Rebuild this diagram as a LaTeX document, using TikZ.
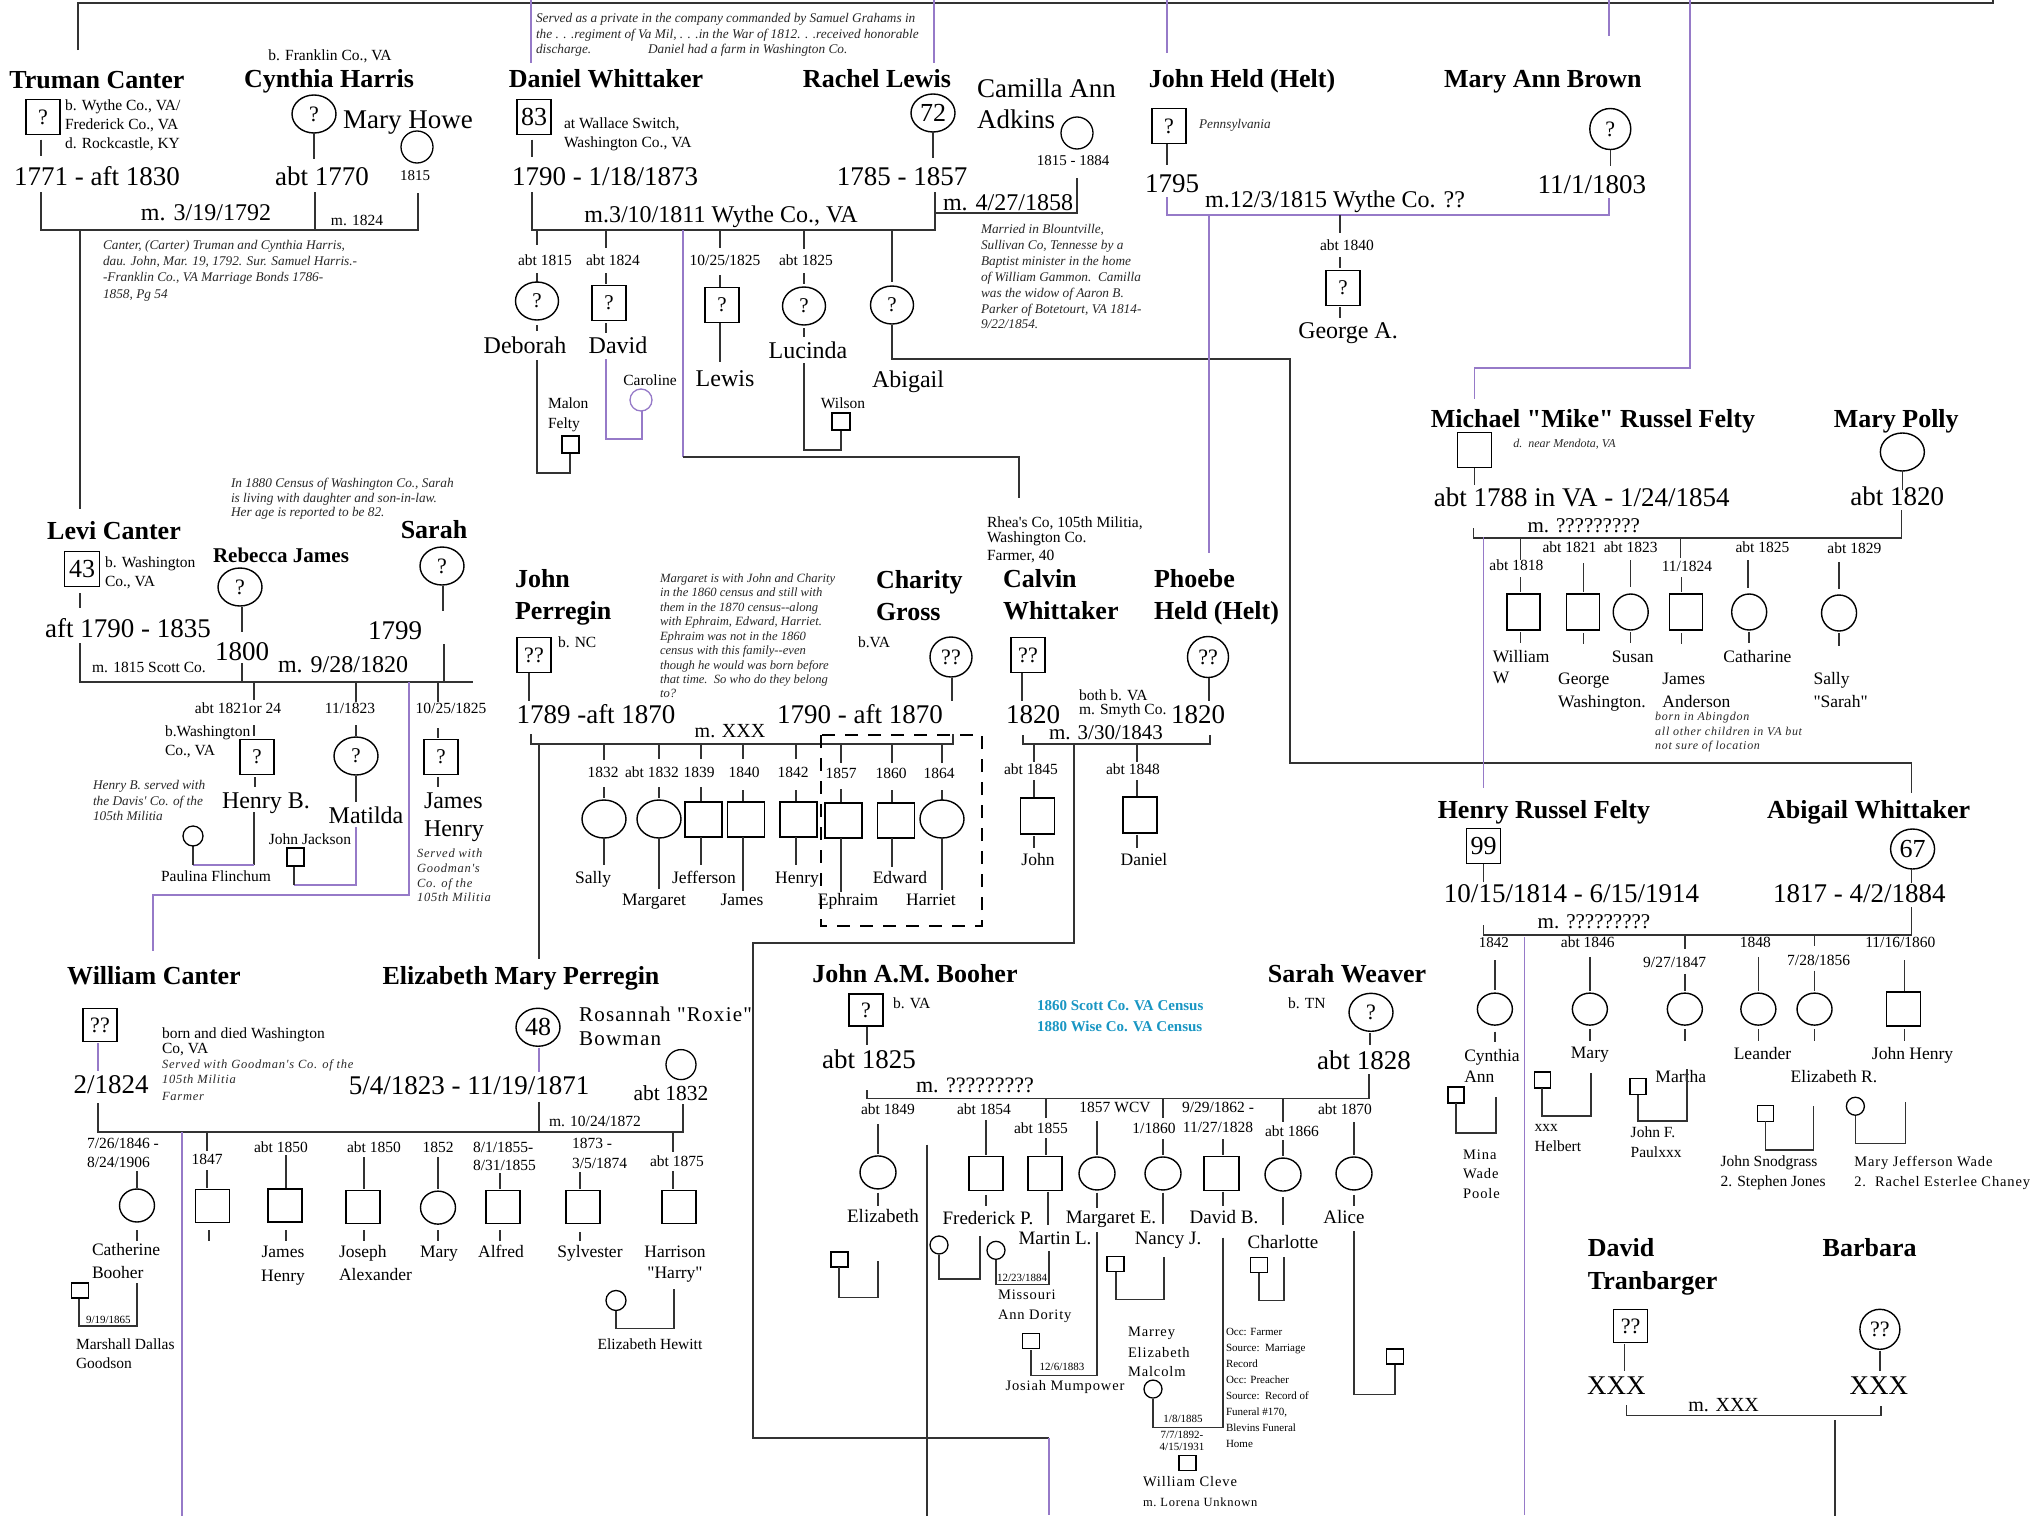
\documentclass[tikz,border=0pt]{standalone}
\usepackage{fontspec}
\setmainfont{Liberation Serif}[Ligatures=TeXOff]
\newfontfamily\trk{Liberation Serif}[LetterSpace=6,Ligatures=TeXOff]
\usetikzlibrary{shapes.geometric}
\definecolor{lc}{RGB}{50,50,50}
\definecolor{pur}{RGB}{150,122,200}
\definecolor{cen}{RGB}{25,150,195}
\definecolor{nt}{RGB}{40,40,40}
\newcommand\TX[4][]{\node[#1] (#2) at (#3) {#4};}
\begin{document}
\begin{tikzpicture}[x=1pt,y=-1pt,
 every node/.style={inner sep=0pt, outer sep=0pt},
 ln/.style={draw=lc, line width=1.4pt},
 pl/.style={draw=pur, line width=1.6pt},
 sq/.style={rectangle, draw=black, line width=1.4pt, minimum width=34pt, minimum height=35pt, font=\fontsize{22}{22}\selectfont},
 ci/.style={ellipse, draw=black, line width=1.4pt, minimum width=43pt, minimum height=38pt, font=\fontsize{22}{22}\selectfont},
 ssq/.style={rectangle, draw=black, line width=1.3pt, minimum width=16pt, minimum height=16pt},
 sci/.style={circle, draw=black, line width=1.3pt, minimum size=19pt},
 nm/.style={anchor=base, font=\fontsize{26}{30}\selectfont\bfseries},
 dt/.style={anchor=base, font=\fontsize{27}{30}\selectfont},
 mr/.style={anchor=base, font=\fontsize{24}{28}\selectfont},
 sm/.style={anchor=base, font=\fontsize{15.5}{18}\selectfont},
 yr/.style={anchor=base, font=\fontsize{15.5}{18}\selectfont},
 it/.style={anchor=base west, font=\fontsize{13.3}{16}\selectfont\itshape, text=nt},
 cn/.style={anchor=base, font=\fontsize{24}{28}\selectfont},
 cs/.style={anchor=base, font=\fontsize{17.5}{20}\selectfont},
 cb/.style={anchor=base, font=\fontsize{19}{22}\selectfont},
 tn/.style={anchor=base, font=\fontsize{11}{13}\selectfont},
 tk/.style={anchor=base west, font=\fontsize{14.5}{17}\trk},
 rgt/.style={xshift=-31.8pt, xscale=1.0212},
 low/.style={yshift=64.61pt, yscale=1.0673},
]
\fill[white] (0,0) rectangle (2031,1515);
\useasboundingbox (0,0) rectangle (2031,1515);

% ---------- frame and top connectors
\draw[ln] (78,50) -- (78,3) -- (1993,3) -- (1993,0);
\draw[pl] (531,0) -- (531,63);
\draw[pl] (934,0) -- (934,63);
\draw[pl] (1167,0) -- (1167,53);

% ---------- Truman Canter
\TX[nm]{tcN}{97,88}{Truman Canter}
\node[sq] (tcB) at (43,117) {?};
\TX[sm,anchor=base west]{tcI1}{65,110}{b. Wythe Co., VA/}
\TX[sm,anchor=base west]{tcI2}{65,129}{Frederick Co., VA}
\TX[sm,anchor=base west]{tcI3}{65,148}{d. Rockcastle, KY}
\draw[ln] (tcB.south) ++(-2,5) -- ++(0,16);
\TX[dt]{tcD}{97,185}{1771 - aft 1830}
\draw[ln] (41,192) -- (41,230) -- (418,230) -- (418,193);
\draw[ln] (315,192) -- (315,230);
\TX[mr]{tcM}{206,220}{m. 3/19/1792}
\TX[sm]{tcM2}{357,225}{m. 1824}
\TX[it]{tcT1}{103,249}{Canter, (Carter) Truman and Cynthia Harris,}
\TX[it]{tcT2}{103,265}{dau. John, Mar. 19, 1792. Sur. Samuel Harris.-}
\TX[it]{tcT3}{103,281}{-Franklin Co., VA Marriage Bonds 1786-}
\TX[it]{tcT4}{103,298}{1858, Pg 54}
\draw[ln] (80,230) -- (80,509);

% ---------- Cynthia Harris
\TX[sm]{chB}{330,60}{b. Franklin Co., VA}
\TX[nm]{chN}{329,87}{Cynthia Harris}
\node[ci,minimum width=44pt] (chC) at (314,114) {?};
\draw[ln] (chC.south) -- ++(0,26);
\TX[dt]{chD}{322,185}{abt 1770}

% ---------- Mary Howe
\TX[dt]{mhN}{408,128}{Mary Howe}
\node[sci,minimum size=32pt] (mhC) at (417,147) {};
\TX[sm,font=\fontsize{15}{18}\selectfont]{mhD}{415,180}{1815}

% ---------- Daniel Whittaker
\TX[it]{dwT1}{536,22}{Served as a private in the company commanded by Samuel Grahams in}
\TX[it]{dwT2}{536,38}{the . . .regiment of Va Mil, . . .in the War of 1812. . .received honorable}
\TX[it]{dwT3}{536,53}{discharge.}
\TX[it]{dwT4}{648,53}{Daniel had a farm in Washington Co.}
\TX[nm]{dwN}{606,87}{Daniel Whittaker}
\node[sq,font=\fontsize{26}{26}\selectfont] (dwB) at (534,117) {83};
\TX[sm,anchor=base west]{dwI1}{564,128}{at Wallace Switch,}
\TX[sm,anchor=base west]{dwI2}{564,147}{Washington Co., VA}
\draw[ln] (dwB.south) ++(-2,5) -- ++(0,17);
\TX[dt]{dwD}{605,185}{1790 - 1/18/1873}
\draw[ln] (532,192) -- (532,230) -- (935,230) -- (935,192);
\TX[mr]{dwM}{721,222}{m.3/10/1811 Wythe Co., VA}

% ---------- Rachel Lewis
\TX[nm]{rlN}{877,87}{Rachel Lewis}
\node[ci,font=\fontsize{26}{26}\selectfont,minimum width=44pt] (rlC) at (933,113) {72};
\draw[ln] (rlC.south) -- ++(0,26);
\TX[dt]{rlD}{902,185}{1785 - 1857}
\draw[ln] (935,213) -- (1077,213) -- (1077,178);
\TX[mr]{caM}{1008,210}{m. 4/27/1858}

% ---------- Camilla Ann Adkins
\TX[dt,anchor=base west]{caN1}{977,97}{Camilla Ann}
\TX[dt,anchor=base west]{caN2}{977,128}{Adkins}
\node[sci,minimum size=32pt] (caC) at (1077,133) {};
\TX[sm,font=\fontsize{15}{18}\selectfont]{caD}{1073,165}{1815 - 1884}
\TX[it]{caT1}{981,233}{Married in Blountville,}
\TX[it]{caT2}{981,249}{Sullivan Co, Tennesse by a}
\TX[it]{caT3}{981,265}{Baptist minister in the home}
\TX[it]{caT4}{981,281}{of William Gammon.\ \ Camilla}
\TX[it]{caT5}{981,297}{was the widow of Aaron B.}
\TX[it]{caT6}{981,313}{Parker of Botetourt, VA 1814-}
\TX[it]{caT7}{981,328}{9/22/1854.}

% ---------- Daniel's children
\draw[ln] (537,230) -- (537,245);
\TX[yr]{d1Y}{545,265}{abt 1815}
\draw[ln] (537,273) -- (537,282);
\node[ci,font=\fontsize{21}{21}\selectfont] (d1C) at (537,301) {?};
\draw[ln] (537,325) -- (537,331);
\TX[cn]{d1N}{525,353}{Deborah}
\draw[ln] (537,360) -- (537,473) -- (570,473) -- (570,453);
\node[ssq,minimum width=17pt,minimum height=17pt] (d1S) at (570.5,444.5) {};
\TX[sm,anchor=base west]{d1S1}{548,408}{Malon}
\TX[sm,anchor=base west]{d1S2}{548,428}{Felty}

\draw[ln] (606,230) -- (606,248);
\TX[yr]{d2Y}{613,265}{abt 1824}
\draw[ln] (606,273) -- (606,284);
\node[sq,font=\fontsize{21}{21}\selectfont] (d2B) at (609,303) {?};
\draw[ln] (606,323) -- (606,333);
\TX[cn]{d2N}{618,353}{David}
\draw[pl] (606,359) -- (606,439) -- (642,439) -- (642,411);
\node[sci,draw=pur,minimum size=22pt] (d2S) at (641,400) {};
\TX[sm]{d2SN}{650,385}{Caroline}

\draw[pl] (683,230) -- (683,457);
\draw[ln] (683,457) -- (1019,457) -- (1019,498);

\draw[ln] (720,230) -- (720,248);
\TX[yr]{d3Y}{725,265}{10/25/1825}
\draw[ln] (720,275) -- (720,287);
\node[sq,font=\fontsize{21}{21}\selectfont] (d3B) at (722,305) {?};
\draw[ln] (720,323) -- (720,362);
\TX[cn]{d3N}{725,386}{Lewis}

\draw[ln] (804,230) -- (804,249);
\TX[yr]{d4Y}{806,265}{abt 1825}
\draw[ln] (804,273) -- (804,284);
\node[ci,font=\fontsize{21}{21}\selectfont] (d4C) at (804,306) {?};
\draw[ln] (804,328) -- (804,337);
\TX[cn]{d4N}{808,358}{Lucinda}
\draw[ln] (804,363) -- (804,450) -- (841,450) -- (841,430);
\node[ssq,minimum width=18pt,minimum height=17pt] (d4S) at (841,421.5) {};
\TX[sm]{d4SN}{843,408}{Wilson}

\draw[ln] (892,230) -- (892,282);
\node[ci,font=\fontsize{21}{21}\selectfont] (d5C) at (892,305) {?};
\draw[ln] (892,325) -- (892,359) -- (1290,359) -- (1290,763) -- (1911.5,763) -- (1911.5,793);
\TX[cn]{d5N}{908,387}{Abigail}

% ---------- John Held
\TX[nm]{jhN}{1242,87}{John Held (Helt)}
\node[sq] (jhB) at (1169,126) {?};
\TX[it]{jhI}{1199,128}{Pennsylvania}
\draw[ln] (1167,144) -- (1167,165);
\TX[dt]{jhD}{1172,192}{1795}
\draw[pl] (1167,197) -- (1167,215) -- (1609,215) -- (1609,198);
\TX[mr]{jhM}{1335,207}{m.12/3/1815 Wythe Co. ??}
\draw[pl] (1209,215) -- (1209,553);
\draw[ln] (1340,215) -- (1340,233);
\TX[yr]{g1Y}{1347,250}{abt 1840}
\draw[ln] (1340,257) -- (1340,268);
\node[sq,font=\fontsize{21}{21}\selectfont] (g1B) at (1343,288) {?};
\draw[ln] (1340,307) -- (1340,318);
\TX[cn]{g1N}{1348,338}{George A.}

% ================= right side (x-corrected)
\begin{scope}[rgt]
\draw[pl] (1607,0) -- (1607,36);
\draw[pl] (1686,0) -- (1686,368) -- (1475,368) -- (1475,399);
% ---------- Mary Ann Brown
\TX[nm]{mbN}{1542,87}{Mary Ann Brown}
\node[ci,minimum width=41pt,minimum height=41pt] (mbC) at (1608,129) {?};
\draw[ln] (1608,150) -- (1608,166);
\TX[dt]{mbD}{1590,193}{11/1/1803}

% ---------- Michael Felty / Mary Polly
\TX[nm]{mfN}{1591,427}{Michael "Mike" Russel Felty}
\TX[it,font=\fontsize{12}{14}\selectfont\itshape]{mfI}{1513,447}{d.\ \ near Mendota, VA}
\node[sq] (mfB) at (1475,450) {};
\draw[ln] (1475,468) -- (1475,485);
\TX[dt]{mfD}{1580,506}{abt 1788 in VA - 1/24/1854}
\TX[nm]{mpN}{1888,427}{Mary Polly}
\node[ci,minimum width=44pt,minimum height=38pt] (mpC) at (1894,452) {};
\draw[ln] (1894,471) -- (1894,490);
\TX[dt]{mpD}{1889,505}{abt 1820}
\draw[ln] (1474,528) -- (1474,538) -- (1893,538) -- (1893,510);
\TX[mr,font=\fontsize{21}{24}\selectfont]{mfM}{1582,532}{m. ?????????}
\draw[pl] (1484,537) -- (1484,788);

% Felty children
\draw[ln] (1520,538) -- (1520,560);
\TX[yr]{f1Y}{1516,570}{abt 1818}
\draw[ln] (1520,577) -- (1520,592);
\node[sq,minimum width=33pt,minimum height=36pt] (f1B) at (1523,612) {};
\draw[ln] (1520,632) -- (1520,643);
\TX[cs,anchor=base west]{f1N1}{1493,662}{William}
\TX[cs,anchor=base west]{f1N2}{1493,683}{W}

\TX[yr]{f2Y}{1568,552}{abt 1821}
\draw[ln] (1582,563) -- (1582,592);
\node[sq,minimum width=33pt,minimum height=36pt] (f2B) at (1581,612) {};
\draw[ln] (1582,633) -- (1582,644);
\TX[cs,anchor=base west]{f2N1}{1557,684}{George}
\TX[cs,anchor=base west]{f2N2}{1557,707}{Washington.}

\TX[yr]{f3Y}{1628,552}{abt 1823}
\draw[ln] (1628,560) -- (1628,587);
\node[ci,minimum width=35pt,minimum height=36pt] (f3C) at (1628,612) {};
\draw[ln] (1628,632) -- (1628,643);
\TX[cs]{f3N}{1630,662}{Susan}

\draw[ln] (1677,538) -- (1677,558);
\TX[yr]{f4Y}{1683,571}{11/1824}
\draw[ln] (1678,577) -- (1678,592);
\node[sq,minimum width=33pt,minimum height=36pt] (f4B) at (1682,612) {};
\draw[ln] (1678,633) -- (1678,644);
\TX[cs,anchor=base west]{f4N1}{1659,684}{James}
\TX[cs,anchor=base west]{f4N2}{1659,707}{Anderson}
\TX[it,font=\fontsize{12}{14}\trk\itshape]{f4T1}{1652,720}{born in Abingdon}
\TX[it,font=\fontsize{12}{14}\trk\itshape]{f4T2}{1652,735}{all other children in VA but}
\TX[it,font=\fontsize{12}{14}\trk\itshape]{f4T3}{1652,749}{not sure of location}

\TX[yr]{f5Y}{1757,552}{abt 1825}
\draw[ln] (1743,560) -- (1743,588);
\node[ci,minimum width=35pt,minimum height=36pt] (f5C) at (1744,612) {};
\draw[ln] (1744,632) -- (1744,643);
\TX[cs]{f5N}{1752,662}{Catharine}

\TX[yr]{f6Y}{1847,553}{abt 1829}
\draw[ln] (1832,562) -- (1832,589);
\node[ci,minimum width=35pt,minimum height=36pt] (f6C) at (1832,613) {};
\draw[ln] (1832,633) -- (1832,646);
\TX[cs,anchor=base west]{f6N1}{1807,684}{Sally}
\TX[cs,anchor=base west]{f6N2}{1807,707}{"Sarah"}

% ---------- Henry Russel Felty / Abigail Whittaker
\TX[nm]{hfN}{1543,818}{Henry Russel Felty}
\node[sq,font=\fontsize{26}{26}\selectfont] (hfB) at (1484,846) {99};
\draw[ln] (1484,864) -- (1484,882);
\TX[dt]{hfD}{1570,902}{10/15/1814 - 6/15/1914}
\draw[ln] (1484,925) -- (1484,935) -- (1903,935) -- (1903,907);
\TX[mr,font=\fontsize{21}{24}\selectfont]{hfM}{1592,928}{m. ?????????}
\TX[nm]{awN}{1861,818}{Abigail Whittaker}
\node[ci,font=\fontsize{26}{26}\selectfont,minimum width=44pt,minimum height=40pt] (awC) at (1904,849) {67};
\draw[ln] (1903,869) -- (1903,883);
\TX[dt]{awD}{1852,902}{1817 - 4/2/1884}
\draw[pl] (1524,937) -- (1524,1515);

\begin{scope}[low]
% Henry's children
\TX[yr,font=\fontsize{15}{18}\selectfont]{h1Y}{1494,948}{1842}
\draw[ln] (1495,960) -- (1495,988);
\node[ci,minimum width=35pt,minimum height=32pt] (h1C) at (1495,1006) {};
\draw[ln] (1495,1027) -- (1495,1037);
\TX[cs,anchor=base west]{h1N1}{1465,1055}{Cynthia}
\TX[cs,anchor=base west]{h1N2}{1465,1075}{Ann}
\node[ssq] (h1S) at (1457,1086.5) {};
\draw[ln] (1457,1094) -- (1457,1122) -- (1496,1122) -- (1496,1088);
\TX[tk]{h1S1}{1464,1147}{Mina}
\TX[tk]{h1S2}{1464,1165}{Wade}
\TX[tk]{h1S3}{1464,1183}{Poole}

\TX[yr]{h2Y}{1586,948}{abt 1846}
\draw[ln] (1588,957) -- (1588,989);
\node[ci,minimum width=35pt,minimum height=32pt] (h2C) at (1588,1006) {};
\draw[ln] (1588,1025) -- (1588,1036);
\TX[cs]{h2N}{1588,1052}{Mary}
\node[ssq] (h2S) at (1541.5,1072.5) {};
\draw[ln] (1541,1080) -- (1541,1106) -- (1589,1106) -- (1589,1066);
\TX[sm,anchor=base west]{h2S1}{1534,1121}{xxx}
\TX[sm,anchor=base west]{h2S2}{1534,1139}{Helbert}

\draw[ln] (1681,936) -- (1681,950);
\TX[yr]{h3Y}{1671,967}{9/27/1847}
\draw[ln] (1681,973) -- (1681,989);
\node[ci,minimum width=35pt,minimum height=32pt] (h3C) at (1681,1006) {};
\draw[ln] (1681,1025) -- (1681,1036);
\TX[cs]{h3N}{1677,1075}{Martha}
\node[ssq] (h3S) at (1635,1078.5) {};
\draw[ln] (1635,1086) -- (1635,1111) -- (1683,1111) -- (1683,1062);
\TX[sm,anchor=base west]{h3S1}{1628,1126}{John F.}
\TX[sm,anchor=base west]{h3S2}{1628,1145}{Paulxxx}

\TX[yr]{h4Y}{1750,948}{1848}
\draw[ln] (1753,957) -- (1753,989);
\node[ci,minimum width=35pt,minimum height=32pt] (h4C) at (1753,1006) {};
\draw[ln] (1753,1025) -- (1753,1036);
\TX[cs]{h4N}{1757,1053}{Leander}

\draw[ln] (1808,936) -- (1808,947);
\TX[yr]{h5Y}{1812,965}{7/28/1856}
\draw[ln] (1808,970) -- (1808,989);
\node[ci,minimum width=35pt,minimum height=32pt] (h5C) at (1808,1006) {};
\draw[ln] (1808,1025) -- (1808,1036);
\TX[cs]{h5N}{1827,1075}{Elizabeth R.}
\node[ssq] (h5S) at (1760,1103.5) {};
\draw[ln] (1760,1111) -- (1760,1138) -- (1807,1138) -- (1807,1097);
\TX[sm,anchor=base west]{h5S1}{1716,1153}{John Snodgrass}
\TX[sm,anchor=base west]{h5S2}{1716,1172}{2. Stephen Jones}

\TX[yr]{h6Y}{1892,948}{11/16/1860}
\draw[ln] (1896,960) -- (1896,989);
\node[sq,minimum width=34pt,minimum height=34pt] (h6B) at (1895,1006) {};
\draw[ln] (1896,1025) -- (1896,1036);
\TX[cs]{h6N}{1904,1053}{John Henry}
\node[sci,minimum size=18pt] (h6S) at (1848,1097) {};
\draw[ln] (1848,1106) -- (1848,1132) -- (1897,1132) -- (1897,1093);
\TX[tk]{h6S1}{1847,1153}{Mary\ Jefferson\ Wade}
\TX[tk]{h6S2}{1847,1172}{2.\ \ Rachel\ Esterlee\ Chaney}

% ---------- David Tranbarger / Barbara
\TX[nm,anchor=base west]{dtN1}{1586,1238}{David}
\TX[nm,anchor=base west]{dtN2}{1586,1269}{Tranbarger}
\node[sq,minimum height=33pt] (dtB) at (1628,1303) {??};
\draw[ln] (1622,1320) -- (1622,1345);
\TX[dt]{dtD}{1614,1367}{XXX}
\TX[nm]{bbN}{1862,1238}{Barbara}
\node[ci,minimum width=40pt,minimum height=40pt] (bbC) at (1872,1306) {??};
\draw[ln] (1872,1326) -- (1872,1345);
\TX[dt]{bbD}{1871,1367}{XXX}
\draw[ln] (1624,1377) -- (1624,1387) -- (1873,1387) -- (1873,1378);
\TX[mr,font=\fontsize{20}{24}\selectfont]{dtM}{1719,1383}{m. XXX}
\draw[ln] (1828,1391) -- (1828,1515);
\end{scope}
\end{scope}

% ---------- Levi Canter
\TX[it]{lcT1}{231,487}{In 1880 Census of Washington Co., Sarah}
\TX[it]{lcT2}{231,502}{is living with daughter and son-in-law.}
\TX[it]{lcT3}{231,516}{Her age is reported to be 82.}
\TX[nm]{lcN}{114,539}{Levi Canter}
\node[sq,font=\fontsize{26}{26}\selectfont,minimum width=35pt] (lcB) at (82,569) {43};
\TX[sm,anchor=base west]{lcI1}{105,567}{b. Washington}
\TX[sm,anchor=base west]{lcI2}{105,586}{Co., VA}
\draw[ln] (80,593) -- (80,608);
\TX[dt]{lcD}{128,637}{aft 1790 - 1835}
\draw[ln] (80,643) -- (80,682) -- (473,682);
\draw[ln] (242,663) -- (242,682);
\draw[ln] (444,644) -- (444,682);
\TX[sm]{lcM}{149,672}{m. 1815 Scott Co.}
\TX[nm,font=\fontsize{21}{24}\selectfont\bfseries]{rjN}{281,562}{Rebecca James}
\node[ci,minimum width=44pt] (rjC) at (240,587) {?};
\draw[ln] (242,607) -- (242,632);
\TX[dt]{rjD}{242,660}{1800}
\TX[mr]{lcM2}{343,672}{m. 9/28/1820}
\TX[nm]{saN}{434,538}{Sarah}
\node[ci,minimum width=44pt] (saC) at (442,566) {?};
\draw[ln] (443,586) -- (443,611);
\TX[dt]{saD}{395,639}{1799}

% Levi's children
\draw[ln] (254,682) -- (254,700);
\TX[yr]{l1Y}{238,713}{abt 1821or 24}
\draw[ln] (254,725) -- (254,736);
\TX[sm,anchor=base west]{l1I1}{165,736}{b.Washington}
\TX[sm,anchor=base west]{l1I2}{165,755}{Co., VA}
\node[sq,font=\fontsize{21}{21}\selectfont] (l1B) at (257,757) {?};
\draw[ln] (255,777) -- (255,787);
\TX[cn]{l1N}{266,808}{Henry B.}
\draw[ln] (254,812) -- (254,865);
\draw[pl] (254,865) -- (193,865);
\draw[ln] (193,865) -- (193,846);
\node[sci,minimum size=20pt] (l1S) at (193,836) {};
\TX[sm]{l1SN}{216,881}{Paulina Flinchum}
\TX[it]{l1T1}{93,789}{Henry B. served with}
\TX[it]{l1T2}{93,805}{the Davis' Co. of the}
\TX[it]{l1T3}{93,820}{105th Militia}

\draw[ln] (356,682) -- (356,702);
\TX[yr]{l2Y}{350,713}{11/1823}
\draw[ln] (356,725) -- (356,736);
\node[ci,font=\fontsize{21}{21}\selectfont,minimum width=44pt] (l2C) at (356,756) {?};
\draw[ln] (356,776) -- (356,802);
\TX[cn]{l2N}{366,823}{Matilda}
\draw[pl] (356,827) -- (356,885) -- (294,885);
\draw[ln] (294,885) -- (294,866);
\node[ssq,minimum width=17pt,minimum height=18pt] (l2S) at (295.5,857) {};
\TX[sm]{l2SN}{310,844}{John Jackson}

\draw[pl] (409,682) -- (409,895) -- (153,895) -- (153,951);

\draw[ln] (438,682) -- (438,702);
\TX[yr]{l3Y}{451,713}{10/25/1825}
\draw[ln] (438,728) -- (438,738);
\node[sq,font=\fontsize{21}{21}\selectfont] (l3B) at (441,757) {?};
\draw[ln] (438,777) -- (438,787);
\TX[cn,anchor=base west]{l3N1}{424,808}{James}
\TX[cn,anchor=base west]{l3N2}{424,836}{Henry}
\TX[it,font=\fontsize{12.5}{15}\trk\itshape]{l3T1}{417,857}{Served with}
\TX[it,font=\fontsize{12.5}{15}\trk\itshape]{l3T2}{417,872}{Goodman's}
\TX[it,font=\fontsize{12.5}{15}\trk\itshape]{l3T3}{417,887}{Co. of the}
\TX[it,font=\fontsize{12.5}{15}\trk\itshape]{l3T4}{417,901}{105th Militia}

% ---------- John Perregin / Charity Gross
\TX[nm,anchor=base west]{jpN1}{515,587}{John}
\TX[nm,anchor=base west]{jpN2}{515,619}{Perregin}
\node[sq] (jpB) at (534,655) {??};
\TX[sm,anchor=base west]{jpI}{558,647}{b. NC}
\draw[ln] (529,673) -- (529,701);
\TX[dt]{jpD}{596,723}{1789 -aft 1870}
\draw[ln] (531,734) -- (531,744) -- (953,744) -- (953,734);
\TX[mr,font=\fontsize{20}{24}\selectfont]{jpM}{730,737}{m. XXX}
\draw[ln] (539,744) -- (539,959);
\TX[it,font=\fontsize{12.6}{15}\selectfont\itshape]{pgT1}{660,582}{Margaret is with John and Charity}
\TX[it,font=\fontsize{12.6}{15}\selectfont\itshape]{pgT2}{660,596}{in the 1860 census and still with}
\TX[it,font=\fontsize{12.6}{15}\selectfont\itshape]{pgT3}{660,611}{them in the 1870 census-{}-along}
\TX[it,font=\fontsize{12.6}{15}\selectfont\itshape]{pgT4}{660,625}{with Ephraim, Edward, Harriet.}
\TX[it,font=\fontsize{12.6}{15}\selectfont\itshape]{pgT5}{660,640}{Ephraim was not in the 1860}
\TX[it,font=\fontsize{12.6}{15}\selectfont\itshape]{pgT6}{660,654}{census with this family-{}-even}
\TX[it,font=\fontsize{12.6}{15}\selectfont\itshape]{pgT7}{660,669}{though he would was born before}
\TX[it,font=\fontsize{12.6}{15}\selectfont\itshape]{pgT8}{660,683}{that time.\ \ So who do they belong}
\TX[it,font=\fontsize{12.6}{15}\selectfont\itshape]{pgT9}{660,697}{to?}
\TX[nm,anchor=base west]{cgN1}{876,588}{Charity}
\TX[nm,anchor=base west]{cgN2}{876,620}{Gross}
\TX[sm,anchor=base west]{cgI}{858,647}{b.VA}
\node[ci,minimum width=42pt,minimum height=40pt] (cgC) at (951,657) {??};
\draw[ln] (952,678) -- (952,701);
\TX[dt]{cgD}{860,723}{1790 - aft 1870}
\draw[line width=1.4pt, dash pattern=on 13pt off 10pt] (821,735) rectangle (982,926);

% Perregin children
\draw[ln] (604,744) -- (604,760);
\TX[yr]{p1Y}{603,777}{1832}
\draw[ln] (604,787) -- (604,798);
\node[ci,minimum width=44pt,minimum height=38pt] (p1C) at (604,819) {};
\draw[ln] (604,838) -- (604,865);
\TX[cs]{p1N}{593,883}{Sally}

\draw[ln] (659,744) -- (659,759);
\TX[yr]{p2Y}{652,777}{abt 1832}
\draw[ln] (659,787) -- (659,798);
\node[ci,minimum width=44pt,minimum height=38pt] (p2C) at (659,819) {};
\draw[ln] (659,838) -- (659,889);
\TX[cs]{p2N}{654,905}{Margaret}

\draw[ln] (701,744) -- (701,759);
\TX[yr]{p3Y}{699,777}{1839}
\draw[ln] (701,787) -- (701,801);
\node[sq,minimum width=37pt,minimum height=35pt] (p3B) at (703.5,819.5) {};
\draw[ln] (701,837) -- (701,865);
\TX[cs]{p3N}{704,883}{Jefferson}

\draw[ln] (743,744) -- (743,759);
\TX[yr]{p4Y}{744,777}{1840}
\draw[ln] (743,790) -- (743,801);
\node[sq,minimum width=37pt,minimum height=35pt] (p4B) at (746,819.5) {};
\draw[ln] (743,837) -- (743,891);
\TX[cs]{p4N}{742,905}{James}

\draw[ln] (796,744) -- (796,759);
\TX[yr]{p5Y}{793,777}{1842}
\draw[ln] (796,790) -- (796,801);
\node[sq,minimum width=37pt,minimum height=35pt] (p5B) at (798.5,819.5) {};
\draw[ln] (796,837) -- (796,865);
\TX[cs]{p5N}{797,883}{Henry}

\draw[ln] (841,744) -- (841,763);
\TX[yr]{p6Y}{841,778}{1857}
\draw[ln] (841,789) -- (841,802);
\node[sq,minimum width=37pt,minimum height=35pt] (p6B) at (843.5,820.5) {};
\draw[ln] (841,838) -- (841,892);
\TX[cs]{p6N}{848,905}{Ephraim}

\draw[ln] (892,744) -- (892,763);
\TX[yr]{p7Y}{891,778}{1860}
\draw[ln] (892,790) -- (892,802);
\node[sq,minimum width=37pt,minimum height=35pt] (p7B) at (896,820.5) {};
\draw[ln] (892,838) -- (892,867);
\TX[cs]{p7N}{900,883}{Edward}

\draw[ln] (942,744) -- (942,763);
\TX[yr]{p8Y}{939,778}{1864}
\draw[ln] (942,790) -- (942,800);
\node[ci,minimum width=44pt,minimum height=38pt] (p8C) at (942,819) {};
\draw[ln] (942,838) -- (942,890);
\TX[cs]{p8N}{931,905}{Harriet}

% ---------- Calvin Whittaker / Phoebe
\TX[sm,anchor=base west]{cwR1}{987,527}{Rhea's Co, 105th Militia,}
\TX[sm,anchor=base west]{cwR2}{987,542}{Washington Co.}
\TX[sm,anchor=base west]{cwR3}{987,560}{Farmer, 40}
\TX[nm,anchor=base west]{cwN1}{1003,587}{Calvin}
\TX[nm,anchor=base west]{cwN2}{1003,619}{Whittaker}
\node[sq] (cwB) at (1028,655) {??};
\draw[ln] (1022,673) -- (1022,701);
\TX[dt]{cwD}{1033,723}{1820}
\TX[sm,anchor=base west]{cwI1}{1079,700}{both b. VA}
\TX[sm,anchor=base west]{cwI2}{1079,714}{m. Smyth Co.}
\TX[dt]{phD}{1198,723}{1820}
\TX[mr,font=\fontsize{21}{24}\selectfont]{cwM}{1106,739}{m. 3/30/1843}
\draw[ln] (1023,735) -- (1023,744) -- (1210,744) -- (1210,735);
\TX[nm,anchor=base west]{phN1}{1154,587}{Phoebe}
\TX[nm,anchor=base west]{phN2}{1154,619}{Held (Helt)}
\node[ci,minimum width=41pt,minimum height=41pt] (phC) at (1208,657) {??};
\draw[ln] (1209,678) -- (1209,701);
\draw[ln] (1034,744) -- (1034,762);
\TX[yr]{c1Y}{1031,774}{abt 1845}
\draw[ln] (1034,780) -- (1034,798);
\node[sq,minimum width=34pt,minimum height=36pt] (c1B) at (1037.5,816) {};
\draw[ln] (1034,836) -- (1034,848);
\TX[cs]{c1N}{1038,865}{John}
\draw[ln] (1137,744) -- (1137,762);
\TX[yr]{c2Y}{1133,774}{abt 1848}
\draw[ln] (1137,780) -- (1137,797);
\node[sq,minimum width=34pt,minimum height=36pt] (c2B) at (1140,815) {};
\draw[ln] (1137,835) -- (1137,848);
\TX[cs]{c2N}{1144,865}{Daniel}
\draw[ln] (1074,744) -- (1074,943) -- (753,943) -- (753,1438) -- (1049,1438);
\draw[pl] (1049,1438) -- (1049,1515);

% ================= lower part (y-corrected)
\begin{scope}[low]
% ---------- John A.M. Booher / Sarah Weaver
\TX[nm]{jbN}{915,981}{John A.M. Booher}
\node[sq,minimum height=32pt] (jbB) at (866,1007) {?};
\TX[sm,anchor=base west]{jbI}{893,1005}{b. VA}
\draw[ln] (867,1023) -- (867,1040);
\TX[dt]{jbD}{869,1062}{abt 1825}
\draw[ln] (867,1082) -- (867,1090) -- (1369,1090) -- (1369,1067);
\TX[mr,font=\fontsize{22}{24}\selectfont]{jbM}{975,1084}{m. ?????????}
\TX[anchor=base west,font=\fontsize{15}{18}\selectfont\bfseries,text=cen]{cs1}{1037,1007}{1860 Scott Co. VA Census}
\TX[anchor=base west,font=\fontsize{15}{18}\selectfont\bfseries,text=cen]{cs2}{1037,1027}{1880 Wise Co. VA Census}
\TX[nm]{swN}{1347,981}{Sarah Weaver}
\TX[sm,anchor=base west]{swI}{1288,1005}{b. TN}
\node[ci,minimum width=44pt,minimum height=38pt] (swC) at (1371,1009) {?};
\draw[ln] (1370,1028) -- (1370,1040);
\TX[dt]{swD}{1364,1063}{abt 1828}
\draw[ln] (927,1133) -- (927,1515);

% Booher children
\TX[yr]{b1Y}{888,1105}{abt 1849}
\draw[ln] (878,1114) -- (878,1142);
\node[ci,minimum width=36pt,minimum height=33pt] (b1C) at (878,1159) {};
\draw[ln] (878,1178) -- (878,1190);
\TX[cb]{b1N}{883,1206}{Elizabeth}
\node[ssq,minimum width=17pt,minimum height=15pt] (b1S) at (839.5,1240.5) {};
\draw[ln] (839,1248) -- (839,1276) -- (878,1276) -- (878,1242);

\TX[yr]{b2Y}{984,1105}{abt 1854}
\draw[ln] (986,1110) -- (986,1143);
\node[sq,minimum width=34pt,minimum height=34pt] (b2B) at (986,1160) {};
\draw[ln] (986,1180) -- (986,1190);
\TX[cb]{b2N}{988,1208}{Frederick P.}
\node[sci,minimum size=18pt] (b2S) at (939,1227) {};
\draw[ln] (939,1236) -- (939,1259) -- (980,1259) -- (980,1219);

\draw[ln] (1046,1090) -- (1046,1108);
\TX[yr]{b3Y}{1041,1123}{abt 1855}
\draw[ln] (1046,1127) -- (1046,1143);
\node[sq,minimum width=34pt,minimum height=34pt] (b3B) at (1045,1160) {};
\draw[ln] (1048,1177) -- (1048,1208);
\TX[cb]{b3N}{1055,1227}{Martin L.}
\node[sci,minimum size=18pt] (b3S) at (996,1232) {};
\draw[ln] (996,1241) -- (996,1264) -- (1049,1264) -- (1049,1233);
\TX[tn,anchor=base west]{b3D}{997,1261}{12/23/1884}
\TX[tk]{b3S1}{998,1278}{Missouri}
\TX[tk]{b3S2}{998,1297}{Ann\ Dority}

\TX[yr]{b4Y}{1115,1103}{1857 WCV}
\draw[ln] (1097,1111) -- (1097,1143);
\node[ci,minimum width=36pt,minimum height=33pt] (b4C) at (1097,1160) {};
\draw[ln] (1097,1178) -- (1097,1192);
\TX[cb]{b4N}{1111,1207}{Margaret E.}
\draw[ln] (1097,1215) -- (1097,1349) -- (1031,1349) -- (1031,1325);
\node[ssq,minimum width=17pt,minimum height=15pt] (b4S) at (1031,1317) {};
\TX[tn]{b4D}{1062,1345}{12/6/1883}
\TX[tk,anchor=base]{b4S1}{1065,1363}{Josiah\ Mumpower}

\draw[ln] (1163,1090) -- (1163,1108);
\TX[yr]{b5Y}{1154,1123}{1/1860}
\draw[ln] (1163,1128) -- (1163,1143);
\node[ci,minimum width=36pt,minimum height=33pt] (b5C) at (1163,1160) {};
\draw[ln] (1163,1178) -- (1163,1207);
\TX[cb]{b5N}{1168,1227}{Nancy J.}
\node[ssq,minimum width=17pt,minimum height=15pt] (b5S) at (1115.5,1244.5) {};
\draw[ln] (1116,1252) -- (1116,1278) -- (1164,1278) -- (1164,1238);

\TX[yr]{b6Y1}{1218,1103}{9/29/1862 -}
\TX[yr]{b6Y2}{1218,1122}{11/27/1828}
\draw[ln] (1223,1128) -- (1223,1143);
\node[sq,minimum width=35pt,minimum height=34pt] (b6B) at (1221.5,1160) {};
\draw[ln] (1223,1177) -- (1223,1190);
\TX[cb]{b6N}{1224,1207}{David B.}
\draw[ln] (1223,1220) -- (1223,1398) -- (1153,1398) -- (1153,1371);
\node[sci,minimum size=18pt] (b6S) at (1153,1362) {};
\TX[tk]{b6S1}{1128,1313}{Marrey}
\TX[tk]{b6S2}{1128,1332}{Elizabeth}
\TX[tk]{b6S3}{1128,1350}{Malcolm}
\TX[tn]{b6D1}{1183,1393}{1/8/1885}
\TX[tn]{b6D2}{1182,1408}{7/7/1892-}
\TX[tn]{b6D3}{1182,1420}{4/15/1931}
\node[ssq,minimum width=17pt,minimum height=15pt] (b6K) at (1187.5,1431.5) {};
\TX[tk]{b6K1}{1143,1453}{William\ Cleve}
\TX[tk,font=\fontsize{12.5}{15}\trk]{b6K2}{1143,1472}{m.\ Lorena\ Unknown}
\TX[tn,anchor=base west]{b6O1}{1226,1312}{Occ: Farmer}
\TX[tn,anchor=base west]{b6O2}{1226,1327}{Source:\ \ Marriage}
\TX[tn,anchor=base west]{b6O3}{1226,1342}{Record}
\TX[tn,anchor=base west]{b6O4}{1226,1357}{Occ: Preacher}
\TX[tn,anchor=base west]{b6O5}{1226,1372}{Source:\ \ Record of}
\TX[tn,anchor=base west]{b6O6}{1226,1387}{Funeral \#170,}
\TX[tn,anchor=base west]{b6O7}{1226,1402}{Blevins Funeral}
\TX[tn,anchor=base west]{b6O8}{1226,1417}{Home}

\draw[ln] (1283,1090) -- (1283,1112);
\TX[yr]{b7Y}{1292,1125}{abt 1866}
\draw[ln] (1283,1129) -- (1283,1144);
\node[ci,minimum width=36pt,minimum height=33pt] (b7C) at (1283,1161) {};
\draw[ln] (1283,1182) -- (1283,1208);
\TX[cb]{b7N}{1283,1230}{Charlotte}
\node[ssq,minimum width=17pt,minimum height=15pt] (b7S) at (1259,1245.5) {};
\draw[ln] (1259,1253) -- (1259,1279) -- (1284,1279) -- (1284,1238);

\TX[yr]{b8Y}{1345,1105}{abt 1870}
\draw[ln] (1354,1112) -- (1354,1143);
\node[ci,minimum width=36pt,minimum height=33pt] (b8C) at (1354,1160) {};
\draw[ln] (1354,1180) -- (1354,1190);
\TX[cb]{b8N}{1344,1207}{Alice}
\draw[ln] (1354,1214) -- (1354,1367) -- (1395,1367) -- (1395,1339);
\node[ssq,minimum width=17pt,minimum height=15pt] (b8S) at (1395,1331.5) {};

% ---------- William Canter / Elizabeth Mary Perregin
\TX[nm]{wcN}{154,983}{William Canter}
\node[sq,minimum height=33pt] (wcB) at (100,1021) {??};
\draw[pl] (98,1038) -- (98,1064);
\TX[dt]{wcD}{111,1085}{2/1824}
\TX[sm,anchor=base west]{wcI1}{162,1034}{born and died Washington}
\TX[sm,anchor=base west]{wcI2}{162,1048}{Co, VA}
\TX[it,font=\fontsize{12.5}{15}\trk\itshape]{wcI3}{162,1062}{Served with Goodman's Co. of the}
\TX[it,font=\fontsize{12.5}{15}\trk\itshape]{wcI4}{162,1076}{105th Militia}
\TX[it,font=\fontsize{12.5}{15}\trk\itshape]{wcI5}{162,1092}{Farmer}
\draw[ln] (98,1094) -- (98,1121) -- (683,1121) -- (683,1095);
\draw[ln] (539,1093) -- (539,1121);
\TX[nm]{epN}{521,983}{Elizabeth Mary Perregin}
\node[ci,font=\fontsize{26}{26}\selectfont,minimum width=44pt] (epC) at (538,1023) {48};
\draw[pl] (539,1042) -- (539,1065);
\TX[dt]{epD}{469,1086}{5/4/1823 - 11/19/1871}
\TX[anchor=base west,font=\fontsize{21}{24}\trk]{rbN1}{579,1018}{Rosannah "Roxie"}
\TX[anchor=base west,font=\fontsize{21}{24}\trk]{rbN2}{579,1040}{Bowman}
\node[sci,minimum size=30pt] (rbC) at (681,1058) {};
\TX[cn,font=\fontsize{21.5}{24}\selectfont]{rbD}{671,1092}{abt 1832}
\TX[sm]{rbM}{595,1116}{m. 10/24/1872}
\draw[pl] (182,1121) -- (182,1515);

% William's children
\TX[yr,anchor=base west]{w0Y1}{87,1137}{7/26/1846 -}
\TX[yr,anchor=base west]{w0Y2}{87,1154}{8/24/1906}
\draw[ln] (137,1158) -- (137,1174);
\node[ci,minimum width=35pt,minimum height=33pt] (w0C) at (137,1190) {};
\draw[ln] (137,1213) -- (137,1223);
\TX[cs,anchor=base west]{w0N1}{92,1237}{Catherine}
\TX[cs,anchor=base west]{w0N2}{92,1258}{Booher}
\draw[ln] (137,1263) -- (137,1303) -- (79,1303) -- (79,1277);
\node[ssq,minimum width=17pt,minimum height=15pt] (w0S) at (80,1269.5) {};
\TX[tn,anchor=base west]{w0D}{86,1301}{9/19/1865}
\TX[sm,anchor=base west]{w0S1}{76,1325}{Marshall Dallas}
\TX[sm,anchor=base west]{w0S2}{76,1343}{Goodson}

\draw[ln] (207,1121) -- (207,1139);
\TX[yr]{w1Y}{207,1152}{1847}
\draw[ln] (207,1157) -- (207,1174);
\node[sq,minimum width=34pt,minimum height=33pt] (w1B) at (212.5,1190.5) {};
\draw[ln] (209,1213) -- (209,1223);

\TX[yr]{w2Y}{281,1140}{abt 1850}
\draw[ln] (286,1143) -- (286,1174);
\node[sq,minimum width=34pt,minimum height=33pt] (w2B) at (285,1190) {};
\draw[ln] (286,1213) -- (286,1223);
\TX[cs]{w2N1}{283,1239}{James}
\TX[cs]{w2N2}{283,1261}{Henry}

\TX[yr]{w3Y}{374,1140}{abt 1850}
\draw[ln] (364,1145) -- (364,1175);
\node[sq,minimum width=34pt,minimum height=33pt] (w3B) at (363,1191.5) {};
\draw[ln] (364,1213) -- (364,1223);
\TX[cs,anchor=base west]{w3N1}{339,1239}{Joseph}
\TX[cs,anchor=base west]{w3N2}{339,1260}{Alexander}

\TX[yr]{w4Y}{438,1140}{1852}
\draw[ln] (438,1145) -- (438,1175);
\node[ci,minimum width=35pt,minimum height=33pt] (w4C) at (438,1192) {};
\draw[ln] (438,1213) -- (438,1223);
\TX[cs]{w4N}{439,1239}{Mary}

\TX[yr,anchor=base west]{w5Y1}{473,1140}{8/1/1855-}
\TX[yr,anchor=base west]{w5Y2}{473,1157}{8/31/1855}
\draw[ln] (500,1160) -- (500,1175);
\node[sq,minimum width=34pt,minimum height=33pt] (w5B) at (503,1191.5) {};
\draw[ln] (500,1213) -- (500,1223);
\TX[cs]{w5N}{501,1239}{Alfred}

\TX[yr,anchor=base west]{w6Y1}{572,1137}{1873 -}
\TX[yr,anchor=base west]{w6Y2}{572,1155}{3/5/1874}
\draw[ln] (580,1159) -- (580,1175);
\node[sq,minimum width=34pt,minimum height=33pt] (w6B) at (583,1191.5) {};
\draw[ln] (580,1215) -- (580,1223);
\TX[cs]{w6N}{590,1239}{Sylvester}

\draw[ln] (673,1121) -- (673,1140);
\TX[yr]{w7Y}{677,1153}{abt 1875}
\draw[ln] (673,1158) -- (673,1175);
\node[sq,minimum width=34pt,minimum height=33pt] (w7B) at (679,1191.5) {};
\TX[cs]{w7N1}{675,1239}{Harrison}
\TX[cs]{w7N2}{675,1258}{"Harry"}
\node[sci,minimum size=20pt] (w7S) at (616,1279) {};
\draw[ln] (616,1289) -- (616,1305) -- (674,1305) -- (674,1268);
\TX[sm]{w7SN}{650,1325}{Elizabeth Hewitt}
\end{scope}

\end{tikzpicture}
\end{document}
